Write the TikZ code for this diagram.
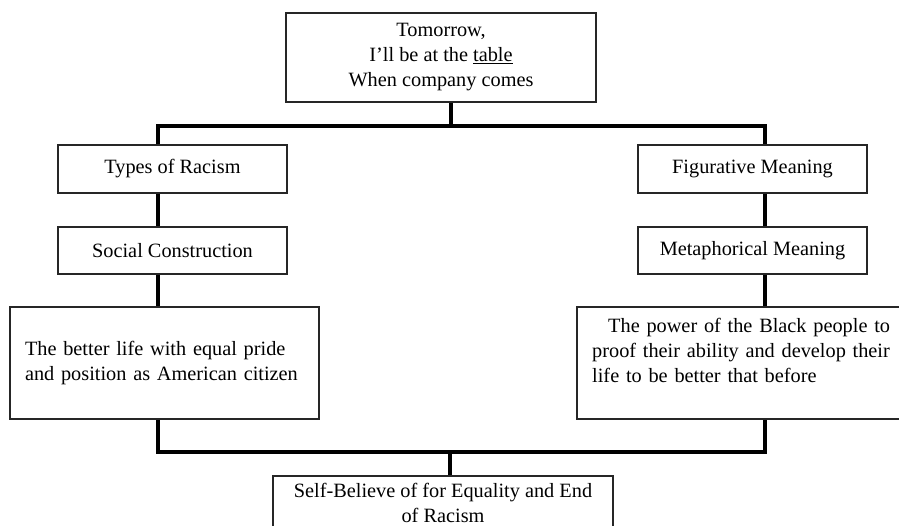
\documentclass[tikz,border=0pt]{standalone}
\usepackage{fontspec}
\setmainfont{Liberation Serif}
\begin{document}
\begin{tikzpicture}[x=1pt,y=-1pt,
  box/.style={draw=black!85, line width=1.1pt, inner sep=0pt,
    font=\fontsize{20.3}{25}\selectfont},
  txt/.style={inner sep=0pt, font=\fontsize{20.3}{25}\selectfont},
  conn/.style={draw=black, line width=3.4pt, line join=miter}]
\useasboundingbox (0,0) rectangle (899,526);

% top
\node[box, minimum width=310pt, minimum height=89pt, align=center] (top) at (441,57.5)
  {Tomorrow,\\ I’ll be at the \underline{table}\\ When company comes};

% left column
\node[box, minimum width=229pt, minimum height=48pt] (types) at (172.5,169) {Types of Racism};
\node[box, minimum width=229pt, minimum height=47pt] (social) at (172.5,250.5) {Social Construction};
\node[box, minimum width=309pt, minimum height=112pt, inner xsep=15pt, text width=279pt, align=left] (lbig) at (164.5,363)
  {The better life with equal pride\\ and position as American citizen};

% right column
\node[box, minimum width=229pt, minimum height=48pt] (fig) at (752.5,169) {Figurative Meaning};
\node[box, minimum width=229pt, minimum height=47pt] (meta) at (752.5,250.5) {Metaphorical Meaning};
\node[box, minimum width=328pt, minimum height=112pt] (rbig) at (741,363) {};
\node[txt, anchor=north west, text width=300pt, align=left] (rbigtxt) at (592,318)
  {\hspace*{16pt}The power of the Black people to\\ proof their ability and develop their\\ life to be better that before};

% bottom
\node[box, minimum width=340pt, minimum height=54pt, align=center] (end) at (443,503)
  {Self-Believe of for Equality and End\\ of Racism};

% junctions
\coordinate (lx) at (158,0);
\coordinate (rx) at (765,0);
\coordinate (jt) at (451,126);
\coordinate (jb) at (450,452);

% connectors
\draw[conn] (top.south -| jt) -- (jt);
\draw[conn] (types.north -| lx) |- (jt) -| (fig.north -| rx);
\draw[conn] (types.south -| lx) -- (social.north -| lx);
\draw[conn] (social.south -| lx) -- (lbig.north -| lx);
\draw[conn] (fig.south -| rx) -- (meta.north -| rx);
\draw[conn] (meta.south -| rx) -- (rbig.north -| rx);
\draw[conn] (lbig.south -| lx) |- (jb) -| (rbig.south -| rx);
\draw[conn] (jb) -- (end.north -| jb);
\end{tikzpicture}
\end{document}
